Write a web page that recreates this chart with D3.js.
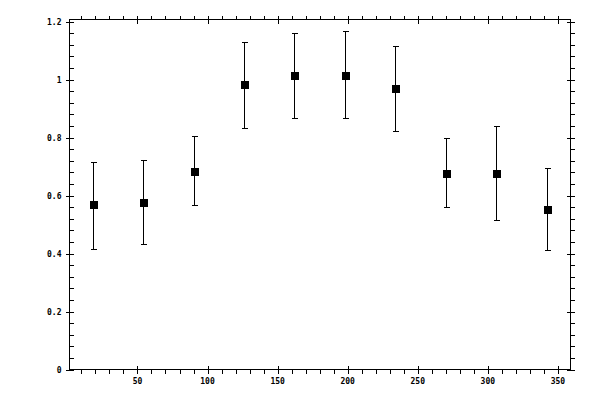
<!DOCTYPE html>
<html>
<head>
<meta charset="utf-8">
<script src="https://cdn.jsdelivr.net/npm/d3@7"></script>
<style>
  body { margin: 0; background: #fff; }
  text { font-family: "DejaVu Sans Mono", monospace; font-size: 8px; font-weight: bold; fill: #000; }
</style>
</head>
<body>
<div id="vizholder"></div>
<script>
// bin centres (degrees) and measured values
var angles = [18, 54, 90, 126, 162, 198, 234, 270, 306, 342];
var values = [0.570, 0.579, 0.686, 0.983, 1.014, 1.017, 0.972, 0.679, 0.679, 0.552];
var upper  = [0.716, 0.723, 0.806, 1.131, 1.162, 1.169, 1.117, 0.797, 0.841, 0.695];
var lower  = [0.417, 0.434, 0.566, 0.834, 0.866, 0.869, 0.824, 0.559, 0.517, 0.411];

var xTicks = [50, 100, 150, 200, 250, 300, 350];
var yTicks = [0, 0.2, 0.4, 0.6, 0.8, 1, 1.2];

var svg = d3.select("#vizholder").append("svg")
    .attr("width", 600)
    .attr("height", 400)
    .attr("shape-rendering", "crispEdges");

var box = {left: 69.5, right: 570.5, top: 19.5, bottom: 369.5};

var x = d3.scaleLinear().domain([1.5, 359]).range([box.left, box.right]);
var y = d3.scaleLinear().domain([0, 1.207]).range([box.bottom, box.top]);

var xMinor = d3.range(10, 360, 10).filter(function(v){ return xTicks.indexOf(v) < 0; });
var yMinor = d3.range(0, 1.21, 0.04).map(function(v){ return +v.toFixed(2); })
    .filter(function(v){ return yTicks.every(function(t){ return Math.abs(t - v) > 1e-6; }); });

function px(v){ return Math.round(v) + 0.5; }

var frame = svg.append("g").attr("stroke", "#000").attr("stroke-width", 1);

frame.append("rect")
    .attr("x", box.left).attr("y", box.top)
    .attr("width", box.right - box.left).attr("height", box.bottom - box.top)
    .attr("fill", "none");

// minor ticks
frame.selectAll(".xminb").data(xMinor).enter().append("line")
    .attr("x1", function(d){ return px(x(d)); }).attr("x2", function(d){ return px(x(d)); })
    .attr("y1", box.bottom).attr("y2", box.bottom + 4);
frame.selectAll(".xmint").data(xMinor).enter().append("line")
    .attr("x1", function(d){ return px(x(d)); }).attr("x2", function(d){ return px(x(d)); })
    .attr("y1", box.top).attr("y2", box.top - 4);
frame.selectAll(".yminl").data(yMinor).enter().append("line")
    .attr("y1", function(d){ return px(y(d)); }).attr("y2", function(d){ return px(y(d)); })
    .attr("x1", box.left).attr("x2", box.left + 4);
frame.selectAll(".yminr").data(yMinor).enter().append("line")
    .attr("y1", function(d){ return px(y(d)); }).attr("y2", function(d){ return px(y(d)); })
    .attr("x1", box.right).attr("x2", box.right + 4);

// major ticks, crossing the axis
frame.selectAll(".xmajb").data(xTicks).enter().append("line")
    .attr("x1", function(d){ return px(x(d)); }).attr("x2", function(d){ return px(x(d)); })
    .attr("y1", box.bottom - 4).attr("y2", box.bottom + 4);
frame.selectAll(".xmajt").data(xTicks).enter().append("line")
    .attr("x1", function(d){ return px(x(d)); }).attr("x2", function(d){ return px(x(d)); })
    .attr("y1", box.top - 4).attr("y2", box.top + 4);
frame.selectAll(".ymajl").data(yTicks).enter().append("line")
    .attr("y1", function(d){ return px(y(d)); }).attr("y2", function(d){ return px(y(d)); })
    .attr("x1", box.left - 4).attr("x2", box.left + 4);
frame.selectAll(".ymajr").data(yTicks).enter().append("line")
    .attr("y1", function(d){ return px(y(d)); }).attr("y2", function(d){ return px(y(d)); })
    .attr("x1", box.right - 4).attr("x2", box.right + 4);

// tick labels
svg.selectAll(".xlab").data(xTicks).enter().append("text")
    .attr("x", function(d){ return x(d); })
    .attr("y", box.bottom + 14)
    .attr("text-anchor", "middle")
    .text(function(d){ return d; });

svg.selectAll(".ylab").data(yTicks).enter().append("text")
    .attr("x", box.left - 8)
    .attr("y", function(d){ return y(d) + 3; })
    .attr("text-anchor", "end")
    .text(function(d){ return d; });

// error bars
var pts = angles.map(function(a, i){
    return { a: a, v: values[i], hi: upper[i], lo: lower[i] };
});

var bars = svg.append("g").attr("stroke", "#000").attr("stroke-width", 1);
bars.selectAll(".eb").data(pts).enter().append("line")
    .attr("x1", function(d){ return px(x(d.a)); })
    .attr("x2", function(d){ return px(x(d.a)); })
    .attr("y1", function(d){ return px(y(d.hi)); })
    .attr("y2", function(d){ return px(y(d.lo)); });
bars.selectAll(".capt").data(pts).enter().append("line")
    .attr("x1", function(d){ return px(x(d.a)) - 3; })
    .attr("x2", function(d){ return px(x(d.a)) + 3; })
    .attr("y1", function(d){ return px(y(d.hi)); })
    .attr("y2", function(d){ return px(y(d.hi)); });
bars.selectAll(".capb").data(pts).enter().append("line")
    .attr("x1", function(d){ return px(x(d.a)) - 3; })
    .attr("x2", function(d){ return px(x(d.a)) + 3; })
    .attr("y1", function(d){ return px(y(d.lo)); })
    .attr("y2", function(d){ return px(y(d.lo)); });

// square markers
svg.selectAll(".pt").data(pts).enter().append("rect")
    .attr("x", function(d){ return Math.round(x(d.a)) - 3; })
    .attr("y", function(d){ return Math.round(y(d.v)) - 3; })
    .attr("width", 8)
    .attr("height", 8)
    .attr("fill", "#000");
</script>
</body>
</html>
